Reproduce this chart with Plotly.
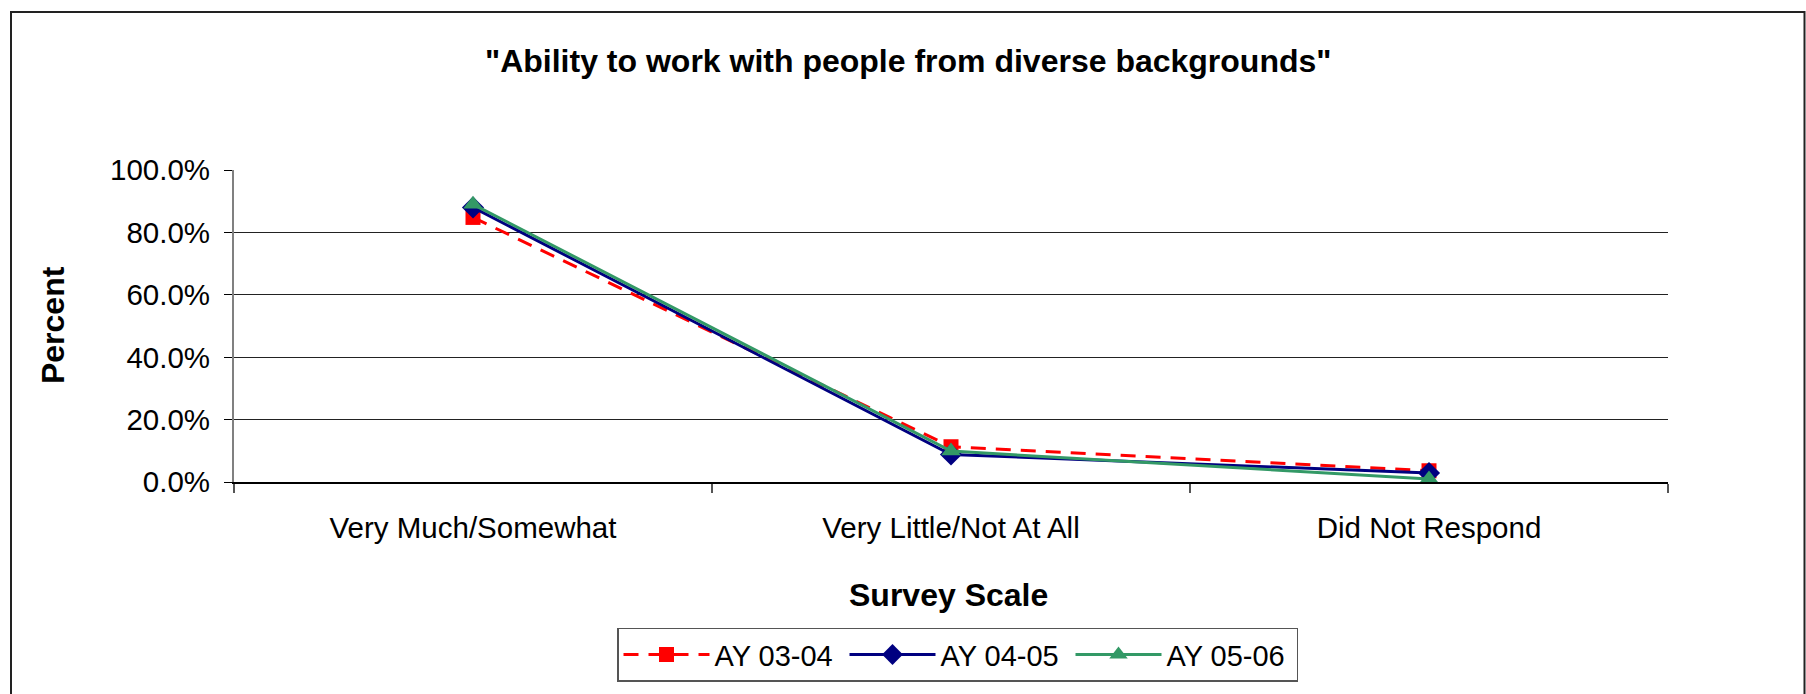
import plotly.graph_objects as go

categories = ["Very Much/Somewhat", "Very Little/Not At All", "Did Not Respond"]
ay_03_04 = [0.848, 0.113, 0.036]
ay_04_05 = [0.880, 0.088, 0.029]
ay_05_06 = [0.890, 0.099, 0.010]
series_names = ["AY 03-04", "AY 04-05", "AY 05-06"]
y_ticks = [0.0, 0.2, 0.4, 0.6, 0.8, 1.0]

FONT = "Liberation Sans, Arial, sans-serif"

fig = go.Figure()
fig.add_trace(go.Scatter(
    x=categories, y=ay_03_04, name=series_names[0], mode="lines+markers",
    line=dict(color="#FF0000", width=3, dash="15px,10px"),
    marker=dict(symbol="square", size=15, color="#FF0000"),
))
fig.add_trace(go.Scatter(
    x=categories, y=ay_04_05, name=series_names[1], mode="lines+markers",
    line=dict(color="#000080", width=3),
    marker=dict(symbol="diamond", size=17, color="#000080"),
))
fig.add_trace(go.Scatter(
    x=categories, y=ay_05_06, name=series_names[2], mode="lines+markers",
    line=dict(color="#339966", width=3),
    marker=dict(symbol="triangle-up", size=17, color="#339966"),
))

W, H = 1806, 694
L, R, T, B = 234, 138, 170, 207
pw, ph = W - L - R, H - T - B

def px_x(x):
    return (x - L) / pw

def px_y(y):
    return (H - B - y) / ph

fig.update_layout(
    width=W, height=H,
    margin=dict(l=L, r=R, t=T, b=B),
    paper_bgcolor="white", plot_bgcolor="white",
    font=dict(family=FONT, size=29, color="black"),
    showlegend=True,
    legend=dict(
        orientation="h", x=px_x(617), xanchor="left", y=px_y(635), yanchor="top",
        xref="paper", yref="paper",
        bordercolor="#555555", borderwidth=1.5, bgcolor="white",
        font=dict(family=FONT, size=29, color="black"),
        itemwidth=86, entrywidth=125, traceorder="normal",
    ),
    xaxis=dict(
        type="category", range=[-0.5, 2.5],
        showline=True, linecolor="black", linewidth=1.5,
        ticks="outside", tickson="boundaries", ticklen=9, tickcolor="#555555", tickwidth=1.5,
        showgrid=False, zeroline=False,
        tickfont=dict(family=FONT, size=29.5, color="black"),
        ticklabelstandoff=19,
    ),
    yaxis=dict(
        range=[0, 1], tickvals=y_ticks, tickformat=".1%",
        showline=True, linecolor="#808080", linewidth=2,
        ticks="outside", ticklen=8, tickcolor="black", tickwidth=1,
        showgrid=True, gridcolor="#222222", gridwidth=1,
        zeroline=False,
        tickfont=dict(family=FONT, size=29.5, color="black"),
        ticklabelstandoff=8,
    ),
    annotations=[
        dict(text='"Ability to work with people from diverse backgrounds"',
             xref="paper", yref="paper", x=px_x(908), y=px_y(59.5),
             xanchor="center", yanchor="middle", showarrow=False,
             font=dict(family=FONT, size=32, color="black", weight="bold")),
        dict(text="Survey Scale",
             xref="paper", yref="paper", x=px_x(948), y=px_y(602),
             xanchor="center", yanchor="middle", showarrow=False,
             font=dict(family=FONT, size=32, color="black", weight="bold")),
        dict(text="Percent", textangle=-90,
             xref="paper", yref="paper", x=px_x(53), y=px_y(327.5),
             xanchor="center", yanchor="middle", showarrow=False,
             font=dict(family=FONT, size=32, color="black", weight="bold")),
    ],
    shapes=[
        dict(type="rect", xref="paper", yref="paper",
             x0=px_x(11), x1=px_x(1804.5), y0=px_y(720), y1=px_y(9.5),
             line=dict(color="#222222", width=2), fillcolor="rgba(0,0,0,0)", layer="below"),
    ],
)

fig.write_html(
    "out.html",
    config={"displayModeBar": False},
    post_script="document.body.style.margin='0';document.body.style.overflow='hidden';",
)
